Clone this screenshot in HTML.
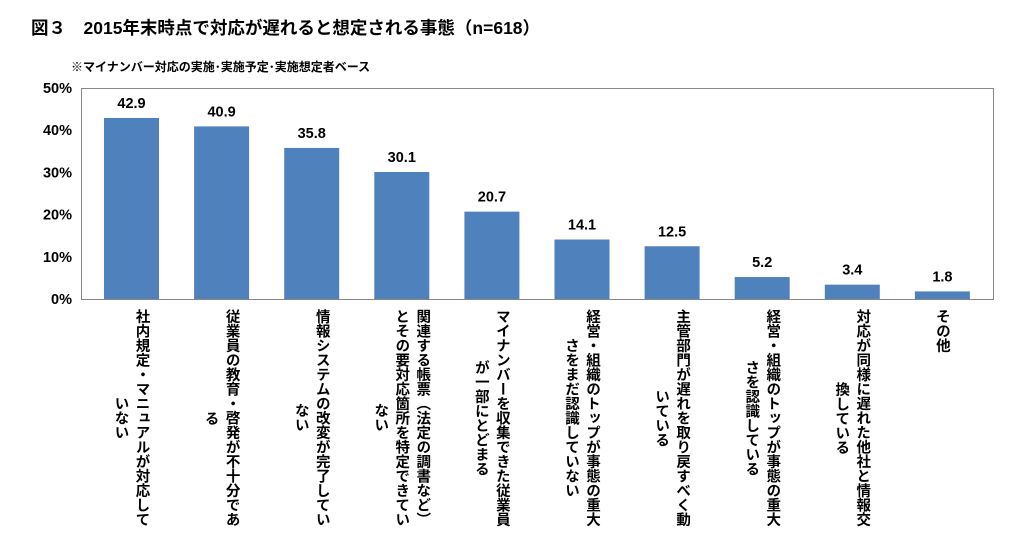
<!DOCTYPE html>
<html><head><meta charset="utf-8">
<style>
body{margin:0;width:1022px;height:553px;background:#fff;position:relative;overflow:hidden;font-family:"Liberation Sans","Noto Sans CJK JP",sans-serif;color:#000}
.t{position:absolute;font-weight:bold;white-space:nowrap}
.cl{position:absolute;top:309px;writing-mode:vertical-rl;text-align:center;font-weight:bold;font-size:14.5px;line-height:21px;transform:translateX(-50%);white-space:nowrap}
</style></head><body>
<div class="t" style="left:31px;top:15px;font-size:17.5px">図３　2015年末時点で対応が遅れると想定される事態（n=618）</div>
<div class="t" style="left:71px;top:58px;font-size:12px">※マイナンバー対応の実施･実施予定･実施想定者ベース</div>
<svg id="chart" width="1022" height="553" style="position:absolute;left:0;top:0"></svg>
<div id="labels"></div>
<script>
const categories=["社内規定・マニュアルが対応して\nいない","従業員の教育・啓発が不十分であ\nる","情報システムの改変が完了してい\nない","関連する帳票（法定の調書など）\nとその要対応箇所を特定できてい\nない","マイナンバーを収集できた従業員\nが一部にとどまる","経営・組織のトップが事態の重大\nさをまだ認識していない","主管部門が遅れを取り戻すべく動\nいている","経営・組織のトップが事態の重大\nさを認識している","対応が同様に遅れた他社と情報交\n換している","その他"];
const values=[42.9,40.9,35.8,30.1,20.7,14.1,12.5,5.2,3.4,1.8];
const valueLabels=["42.9","40.9","35.8","30.1","20.7","14.1","12.5","5.2","3.4","1.8"];
const yTicks=[0,10,20,30,40,50];
const yTickLabels=["0%","10%","20%","30%","40%","50%"];
const NS="http://www.w3.org/2000/svg";
const svg=document.getElementById('chart');
const L=81,R=993,T=88,B=299,yMax=50;
const y=v=>B-(v/yMax)*(B-T);
const x0=131.5,bw=90.1;
const x=i=>x0+bw*i;
function mk(tag,attrs){const e=document.createElementNS(NS,tag);for(const k in attrs)e.setAttribute(k,attrs[k]);svg.appendChild(e);return e;}
const frame=mk('rect',{x:L+0.5,y:T+0.5,width:R-L,height:B-T,fill:'none',stroke:'#888','stroke-width':1});


yTicks.forEach((v,i)=>{
 const t=mk('text',{x:72,y:y(v)+5,'text-anchor':'end','font-size':'14.5','font-weight':'bold','font-family':'Liberation Sans, sans-serif'});
 t.textContent=yTickLabels[i];
 
 
});
values.forEach((v,i)=>{
 const r=mk('rect',{x:x(i)-27.5,y:y(v),width:55,height:B-y(v),fill:'#4f81bd'});
 
 
 const t=mk('text',{x:x(i),y:y(v)-10,'text-anchor':'middle','font-size':'14.5','font-weight':'bold','font-family':'Liberation Sans, sans-serif'});
 t.textContent=valueLabels[i];
 
 
});
const lab=document.getElementById('labels');
categories.forEach((c,i)=>{
 const d=document.createElement('div');
 d.className='cl';
 d.style.left=(x(i)-1)+'px';
 d.innerHTML=c.split('\n').join('<br>');
 
 
 lab.appendChild(d);
});
</script>
</body></html>
